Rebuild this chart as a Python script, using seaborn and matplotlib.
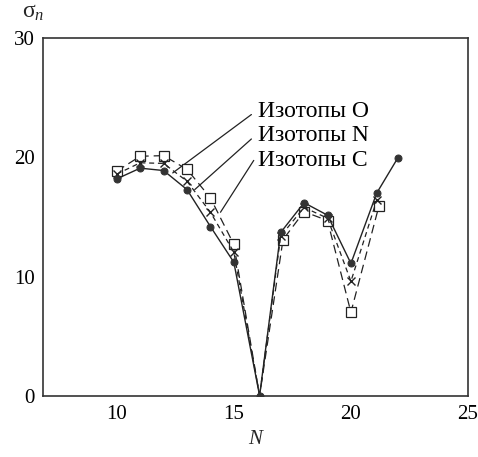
import matplotlib
matplotlib.use("Agg")
import matplotlib.pyplot as plt
import seaborn as sns
import pandas as pd

# Data
N_O = [10, 11, 12, 13, 14, 15, 16.1, 17, 18, 19, 20, 21.1, 22]
sigma_O = [18.2, 19.1, 18.9, 17.3, 14.2, 11.2, 0.0, 13.7, 16.2, 15.15, 11.1, 17.0, 19.95]

N_N = [10, 11, 12, 13, 14, 15, 16.1, 17, 18, 19, 20, 21.1]
sigma_N = [18.6, 19.55, 19.5, 18.0, 15.4, 12.05, 0.0, 13.4, 15.8, 14.9, 9.6, 16.4]

N_C = [10, 11, 12, 13, 14, 15, 16.1, 17.1, 18, 19, 20, 21.2]
sigma_C = [18.85, 20.1, 20.15, 19.0, 16.6, 12.7, 0.0, 13.1, 15.45, 14.7, 7.0, 15.95]

labels = ["Изотопы O", "Изотопы N", "Изотопы C"]
x_ticks = [10, 15, 20, 25]
y_ticks = [0, 10, 20, 30]

sns.set_theme(style="white")
plt.rcParams["font.family"] = ["Liberation Serif", "DejaVu Serif"]
plt.rcParams["mathtext.fontset"] = "custom"
plt.rcParams["mathtext.rm"] = "Liberation Serif"
plt.rcParams["mathtext.it"] = "Liberation Serif:italic"

fig = plt.figure(figsize=(4.78, 4.57), dpi=100)
ax = fig.add_axes([43 / 478, 1 - 395.7 / 457, (468 - 43) / 478, (395.7 - 38.3) / 457])

dfO = pd.DataFrame({"N": N_O, "s": sigma_O})
dfN = pd.DataFrame({"N": N_N, "s": sigma_N})
dfC = pd.DataFrame({"N": N_C, "s": sigma_C})

# the magic-number minimum is drawn only with the filled circle
mk_C = [i for i, v in enumerate(sigma_C) if v > 0]
mk_N = [i for i, v in enumerate(sigma_N) if v > 0]

sns.lineplot(data=dfC, x="N", y="s", ax=ax, sort=False, color="#222222", lw=0.9,
             linestyle=(0, (7, 4)), marker="s", markersize=7, markerfacecolor="white",
             markeredgecolor="#222222", markeredgewidth=0.9, markevery=mk_C, zorder=3)
sns.lineplot(data=dfN, x="N", y="s", ax=ax, sort=False, color="#222222", lw=0.9,
             linestyle=(0, (4, 3)), marker="x", markersize=6,
             markeredgecolor="#222222", markeredgewidth=1.0, markevery=mk_N, zorder=4)
sns.lineplot(data=dfO, x="N", y="s", ax=ax, sort=False, color="#222222", lw=1.0,
             linestyle="-", marker="o", markersize=5, markerfacecolor="#333333",
             markeredgecolor="#333333", zorder=5)

ax.set_xlim(6.85, 25)
ax.set_ylim(0, 30)
ax.set_xticks(x_ticks)
ax.set_yticks(y_ticks)
ax.tick_params(axis="both", direction="in", length=8, width=1.0, labelsize=15,
               colors="black", pad=6)
ax.tick_params(axis="x", pad=7)
for sp in ax.spines.values():
    sp.set_visible(True)
    sp.set_color("#333333")
    sp.set_linewidth(1.2)
ax.grid(False)
ax.set_xlabel("N", fontsize=15, fontstyle="italic", labelpad=4)
ax.set_ylabel("")

# leader labels
text_pos = [(16.05, 23.85), (16.05, 21.8), (16.05, 19.75)]
arrow_end = [(12.39, 18.7), (13.33, 17.3), (14.43, 15.4)]
line_start = [(15.75, 23.6), (15.75, 21.55), (15.85, 19.75)]
for lab, tp, ae, ls in zip(labels, text_pos, arrow_end, line_start):
    ax.text(tp[0], tp[1], lab, fontsize=17, ha="left", va="center", color="black")
    ax.plot([ls[0], ae[0]], [ls[1], ae[1]], color="#222222", lw=0.9)

fig.text(22 / 478, 1 - 13 / 457, r"$\mathrm{σ}_{n}$", fontsize=17, ha="left", va="center")

fig.savefig("out.png", dpi=100, facecolor="white")
